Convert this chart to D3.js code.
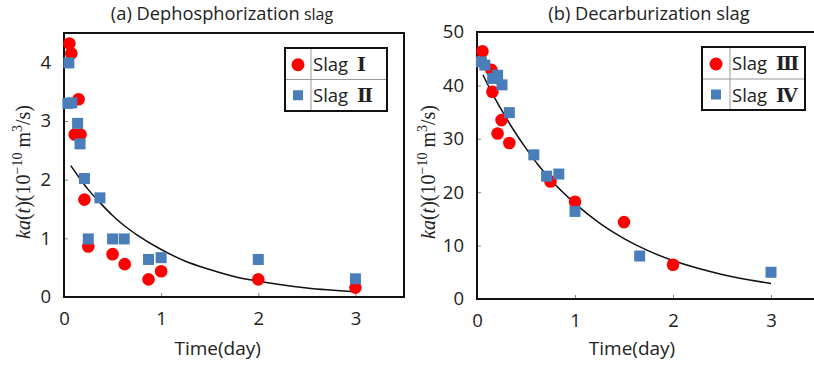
<!DOCTYPE html>
<html><head><meta charset="utf-8">
<script src="https://cdn.jsdelivr.net/npm/d3@7"></script>
<style>
body{margin:0;background:#fff;}
svg{display:block;}
</style></head>
<body>
<svg id="c" width="814" height="369"></svg>
<script>
// ---- Data: panel (a) Dephosphorization slag ----
const slag1X = [0.055, 0.075, 0.15, 0.11, 0.17, 0.21, 0.25, 0.50, 0.625, 0.87, 1.0, 2.0, 3.0];
const slag1Y = [4.32, 4.15, 3.37, 2.77, 2.77, 1.66, 0.86, 0.73, 0.56, 0.30, 0.44, 0.30, 0.16];
const slag2X = [0.05, 0.04, 0.08, 0.14, 0.165, 0.21, 0.37, 0.25, 0.50, 0.62, 0.87, 1.0, 2.0, 3.0];
const slag2Y = [3.99, 3.30, 3.31, 2.96, 2.61, 2.02, 1.69, 0.99, 0.99, 0.99, 0.64, 0.67, 0.64, 0.31];
const fitAX = [0.07, 0.15, 0.25, 0.375, 0.5, 0.625, 0.75, 1.0, 1.25, 1.5, 1.75, 2.0, 2.5, 3.0];
const fitAY = [2.24, 2.05, 1.83, 1.60, 1.39, 1.21, 1.06, 0.81, 0.61, 0.47, 0.35, 0.27, 0.155, 0.089];
const ticksAY = [0, 1, 2, 3, 4];

// ---- Data: panel (b) Decarburization slag ----
const slag3X = [0.055, 0.147, 0.157, 0.25, 0.21, 0.33, 0.75, 1.0, 1.5, 2.0];
const slag3Y = [46.4, 42.9, 38.8, 33.5, 31.0, 29.2, 22.0, 18.2, 14.4, 6.4];
const slag4X = [0.045, 0.08, 0.16, 0.21, 0.255, 0.33, 0.58, 0.71, 0.835, 1.0, 1.66, 3.0];
const slag4Y = [44.4, 43.8, 41.3, 41.9, 40.1, 34.9, 27.0, 23.0, 23.4, 16.4, 8.05, 5.0];
const fitBX = [0.06, 0.15, 0.25, 0.375, 0.5, 0.625, 0.75, 1.0, 1.25, 1.5, 1.75, 2.0, 2.5, 3.0];
const fitBY = [42.0, 38.7, 35.4, 31.6, 28.2, 25.1, 22.4, 17.9, 14.2, 11.3, 9.0, 7.2, 4.6, 2.9];
const ticksBY = [0, 10, 20, 30, 40, 50];

const ticksX = [0, 1, 2, 3];

const RED = "#ff0000", BLUE = "#4a7ebb";
const SANS = "'Open Sans', 'Liberation Sans', Arial, sans-serif";
const SERIF = "'Liberation Serif', 'DejaVu Serif', serif";

const svg = d3.select("#c");

function panel(o) {
  const g = svg.append("g");
  const x = d3.scaleLinear().domain([0, 3.5]).range([o.left, o.right]);
  const y = d3.scaleLinear().domain([0, o.ymax]).range([o.bottom, o.top]);

  // axes with inner ticks
  const ya = g.append("g").attr("transform", `translate(${o.left},0)`)
    .call(d3.axisLeft(y).tickValues(o.yticks).tickSize(-4).tickPadding(13).tickFormat(d3.format("d")));
  const xa = g.append("g").attr("transform", `translate(0,${o.bottom})`)
    .call(d3.axisBottom(x).tickValues(ticksX).tickSize(-4).tickPadding(15).tickFormat(d3.format("d")));
  [ya, xa].forEach(a => {
    a.select(".domain").remove();
    a.selectAll(".tick line").attr("stroke", "#888").attr("stroke-width", 1);
    a.selectAll(".tick text").attr("font-family", SANS).attr("font-size", 18.5).attr("fill", "#222");
  });

  // frame
  g.append("rect").attr("x", o.left).attr("y", o.top)
    .attr("width", o.right - o.left).attr("height", o.bottom - o.top)
    .attr("fill", "none").attr("stroke", "#111").attr("stroke-width", 2);

  // fit line
  const pts = o.fitX.map((v, i) => [v, o.fitY[i]]);
  g.append("path").datum(pts)
    .attr("d", d3.line().x(d => x(d[0])).y(d => y(d[1])).curve(d3.curveMonotoneX))
    .attr("fill", "none").attr("stroke", "#111").attr("stroke-width", 1.5);

  // circles
  g.selectAll(".c").data(o.cX.map((v, i) => [v, o.cY[i]])).join("circle")
    .attr("cx", d => x(d[0])).attr("cy", d => y(d[1])).attr("r", 6.3).attr("fill", RED);
  // squares
  const s = 11;
  g.selectAll(".s").data(o.sX.map((v, i) => [v, o.sY[i]])).join("rect")
    .attr("x", d => x(d[0]) - s / 2).attr("y", d => y(d[1]) - s / 2)
    .attr("width", s).attr("height", s).attr("fill", BLUE);

  // title
  const t = g.append("text").attr("x", o.titleX).attr("y", 20).attr("text-anchor", "middle")
    .attr("font-family", SANS).attr("font-size", 18.3).attr("fill", "#222");
  t.append("tspan").text(o.title);
  t.append("tspan").attr("font-size", o.slagSize).text(" slag");

  // x axis title
  g.append("text").attr("x", (x(0) + x(3)) / 2 + 8).attr("y", 355).attr("text-anchor", "middle")
    .attr("font-family", SANS).attr("font-size", 19).attr("fill", "#222").text("Time(day)");

  // y axis title
  const yl = g.append("text").attr("transform", `translate(${o.ylabX},172) rotate(-90)`)
    .attr("text-anchor", "middle").attr("font-family", SERIF).attr("font-size", 20).attr("fill", "#222");
  yl.append("tspan").attr("font-style", "italic").text("ka");
  yl.append("tspan").text("(");
  yl.append("tspan").attr("font-style", "italic").text("t");
  yl.append("tspan").text(")(10");
  yl.append("tspan").attr("font-size", 14).attr("dy", -8).text("\u221210");
  yl.append("tspan").attr("dy", 8).text(" m");
  yl.append("tspan").attr("font-size", 14).attr("dy", -8).text("3");
  yl.append("tspan").attr("dy", 8).text("/s)");

  // legend
  const L = o.leg;
  const lg = g.append("g");
  lg.append("rect").attr("x", L.x0).attr("y", L.y0).attr("width", L.x1 - L.x0).attr("height", L.y1 - L.y0)
    .attr("fill", "#fff");
  lg.append("line").attr("x1", L.x0).attr("x2", L.x1).attr("y1", L.ym).attr("y2", L.ym).attr("stroke", "#999");
  lg.append("line").attr("x1", L.xd).attr("x2", L.xd).attr("y1", L.y0).attr("y2", L.y1).attr("stroke", "#999");
  lg.append("rect").attr("x", L.x0).attr("y", L.y0).attr("width", L.x1 - L.x0).attr("height", L.y1 - L.y0)
    .attr("fill", "none").attr("stroke", "#111").attr("stroke-width", 2);
  lg.append("circle").attr("cx", L.mx).attr("cy", (L.y0 + L.ym) / 2 + 1).attr("r", 6.5).attr("fill", RED);
  lg.append("rect").attr("x", L.mx - 5).attr("y", (L.ym + L.y1) / 2 - 5).attr("width", 10).attr("height", 10).attr("fill", BLUE);
  o.names.forEach((n, i) => {
    const yy = i === 0 ? (L.y0 + L.ym) / 2 : (L.ym + L.y1) / 2;
    const tx = lg.append("text").attr("x", L.xd + 2).attr("y", yy + 7)
      .attr("font-family", SANS).attr("font-size", 18.5).attr("fill", "#222");
    tx.append("tspan").text("Slag ");
    tx.append("tspan").attr("font-family", "'DejaVu Serif', serif").attr("font-weight", "bold")
      .attr("font-size", 19).attr("dx", 4).text(n);
  });
}

panel({
  left: 64, right: 404, top: 33, bottom: 297, ymax: 4.5, yticks: ticksAY,
  cX: slag1X, cY: slag1Y, sX: slag2X, sY: slag2Y, fitX: fitAX, fitY: fitAY,
  title: "(a) Dephosphorization", slagSize: 16, titleX: 222, ylabX: 30,
  names: ["\u2160", "\u2161"],
  leg: {x0: 285, x1: 387, y0: 48, y1: 111, ym: 79.5, xd: 311, mx: 298}
});
panel({
  left: 477, right: 820, top: 32, bottom: 299, ymax: 50, yticks: ticksBY,
  cX: slag3X, cY: slag3Y, sX: slag4X, sY: slag4Y, fitX: fitBX, fitY: fitBY,
  title: "(b) Decarburization", slagSize: 18.3, titleX: 649, ylabX: 435,
  names: ["\u2162", "\u2163"],
  leg: {x0: 702, x1: 805, y0: 47, y1: 110, ym: 79, xd: 730, mx: 716}
});
</script>
</body></html>
